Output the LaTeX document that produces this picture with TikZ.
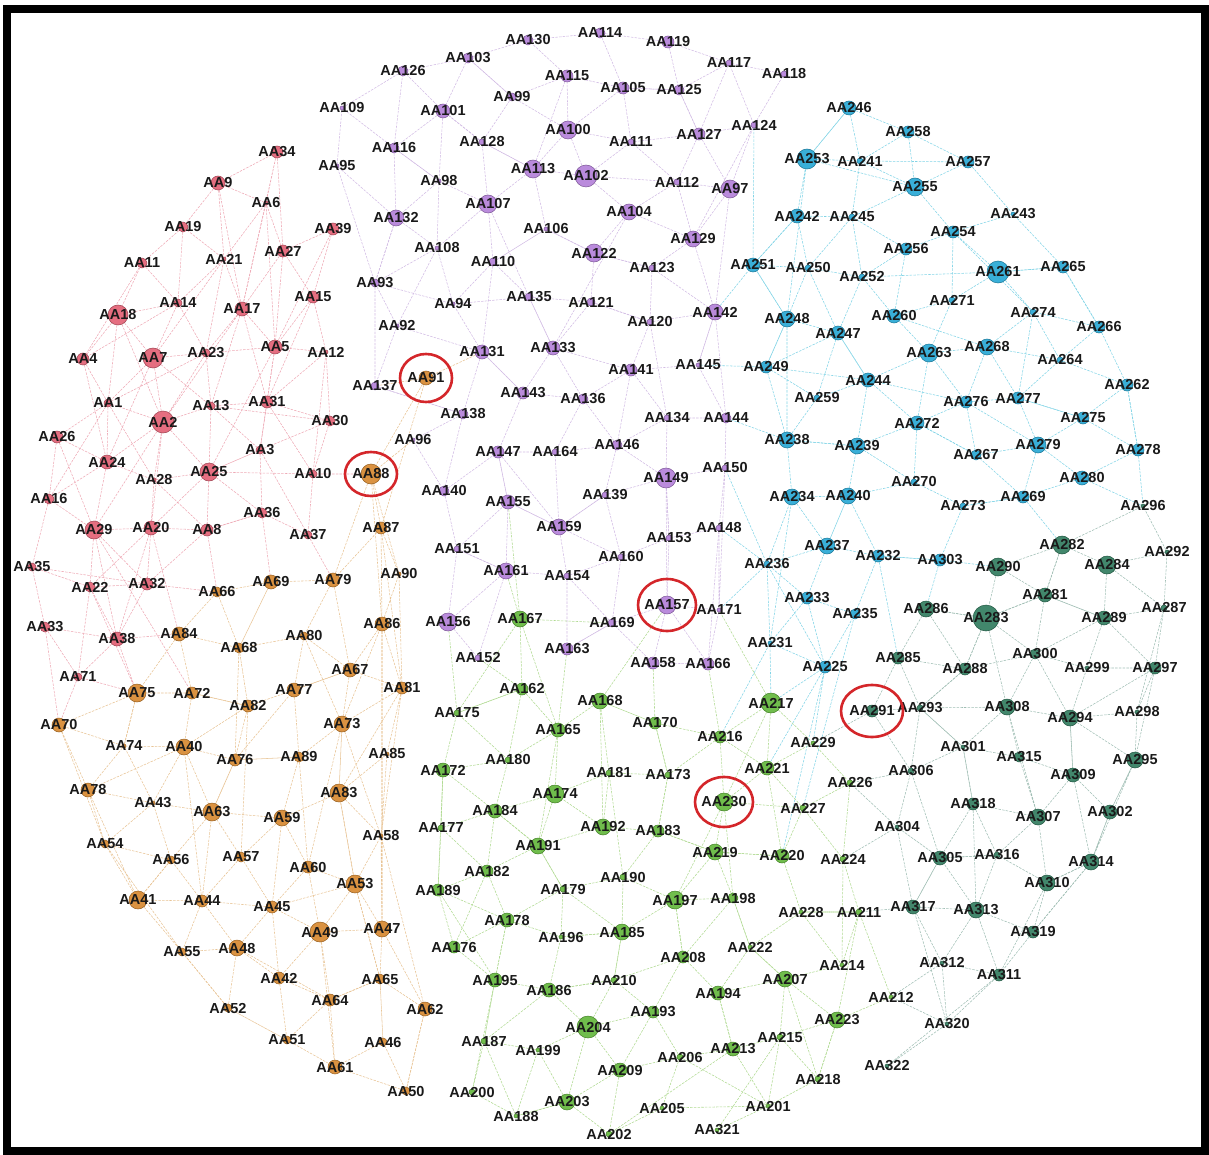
\documentclass[tikz,border=0pt]{standalone}
\usepackage{fontspec}
\setmainfont{Liberation Sans}
\usetikzlibrary{backgrounds}
\definecolor{pkc}{RGB}{226,94,114}\definecolor{orc}{RGB}{214,134,44}\definecolor{puc}{RGB}{178,126,216}
\definecolor{grc}{RGB}{96,182,56}\definecolor{cyc}{RGB}{36,166,212}\definecolor{tlc}{RGB}{46,122,92}
\definecolor{pke}{RGB}{238,170,182}\definecolor{ore}{RGB}{232,196,150}\definecolor{pue}{RGB}{210,188,228}
\definecolor{gre}{RGB}{176,218,146}\definecolor{cye}{RGB}{130,212,230}\definecolor{tle}{RGB}{160,190,180}
\definecolor{ringc}{RGB}{212,38,42}
\tikzset{nd/.style={circle,inner sep=0pt,draw=#1!70!black,fill=#1,fill opacity=.9,line width=.5pt},
lbl/.style={font=\bfseries\fontsize{14.5}{14.5}\selectfont,text=black!90,inner sep=0pt,text opacity=1},
ed/.style={draw=#1,line width=.55pt,dash pattern=on 2.5pt off 1.2pt},ring/.style={draw=ringc,line width=2.6pt}}

\begin{document}
\begin{tikzpicture}[x=1pt,y=-1pt]
\useasboundingbox (0,0) rectangle (1209,1155);
% groupe rouge
\foreach \n/\x/\y/\r in {34/277/152/6,9/218/183/7,6/266/203/2,19/183/227/5,11/142/263/5,21/224/259/2,27/283/251/6,39/333/229/6,14/178/303/4,17/242/309/7,18/118/315/10,15/313/297/6,4/83/359/6,7/153/358/10,23/206/353/4,5/275/347/7,12/326/352/2,1/108/403/4,2/163/422/11,13/211/406/4,31/267/402/6,26/57/437/6,24/107/462/7,28/154/480/2,25/209/472/9,3/260/450/4,30/330/421/5,10/313/474/4,16/49/499/5,29/94/530/9,20/151/528/7,8/207/530/6,36/262/513/5,37/308/535/4,35/32/567/4,22/90/587/5,32/147/584/6,33/45/627/5,38/117/639/7,71/78/677/4}
  \node[nd=pkc,minimum size=2*\r,label={[lbl]center:AA\n}] (AA\n) at (\x,\y) {};
% groupe orange
\foreach \n/\x/\y/\r in {91/426/378/7,88/371/474/10,87/381/528/6,79/333/580/7,90/399/574/2,66/217/592/5,69/271/582/7,84/179/634/7,68/239/648/5,86/382/624/7,80/304/636/4,67/350/670/7,77/294/690/7,81/402/688/6,75/137/693/9,72/192/693/6,82/248/706/6,70/59/725/7,73/342/724/8,74/124/746/2,40/184/747/8,76/235/760/6,89/299/757/5,85/387/754/2,78/88/790/7,43/153/803/2,63/212/812/9,59/282/818/8,83/339/793/9,58/381/836/2,54/105/844/4,56/171/860/4,57/241/857/5,60/308/867/6,53/355/884/9,41/138/900/9,44/202/901/6,45/272/907/6,49/320/932/10,47/382/929/8,55/182/952/4,48/237/948/8,42/279/978/6,65/380/979/5,64/330/1000/6,62/425/1009/7,52/228/1008/4,51/287/1040/4,46/383/1042/4,61/335/1067/7,50/406/1091/4}
  \node[nd=orc,minimum size=2*\r,label={[lbl]center:AA\n}] (AA\n) at (\x,\y) {};
% groupe violet
\foreach \n/\x/\y/\r in {130/528/40/5,114/600/33/5,103/468/58/5,126/403/71/5,119/668/42/6,117/729/63/3,118/784/74/3,115/567/76/6,105/623/88/6,125/679/90/5,99/512/97/4,109/342/108/2,101/443/111/7,124/754/125/3,100/568/130/9,127/699/134/6,111/631/142/3,128/482/142/3,116/394/148/5,95/337/166/2,113/533/169/9,102/586/176/11,98/439/181/2,112/677/182/3,97/730/189/9,107/488/204/9,104/629/212/8,132/396/218/8,106/546/229/2,129/693/239/8,108/437/248/2,122/594/253/9,110/493/262/4,123/652/268/3,93/375/283/4,94/453/304/2,135/529/297/4,121/591/302/4,120/650/322/3,142/715/312/8,92/397/326/2,131/482/352/7,133/553/348/7,141/631/370/6,145/698/365/2,137/375/386/4,143/523/393/6,136/583/399/5,138/463/414/5,134/667/418/3,144/726/418/5,96/413/440/2,146/617/445/5,147/498/452/6,164/555/452/3,149/666/478/10,150/725/468/3,140/444/491/5,139/605/495/3,155/508/502/7,159/559/527/8,148/719/528/3,153/669/538/3,151/457/549/3,160/621/557/3,161/506/571/8,154/567/576/3,157/667/605/9,156/448/622/9,169/612/623/4,171/719/610/2,163/567/649/6,152/478/658/3,158/653/663/6,166/708/664/6}
  \node[nd=puc,minimum size=2*\r,label={[lbl]center:AA\n}] (AA\n) at (\x,\y) {};
% groupe vert
\foreach \n/\x/\y/\r in {167/520/619/8,162/522/689/6,168/600/701/8,175/457/713/3,165/558/730/7,170/655/723/6,172/443/770/7,180/508/760/3,181/609/773/3,173/668/775/3,174/555/794/9,184/495/811/7,177/441/828/3,191/538/846/8,192/603/827/8,183/658/831/6,182/487/871/6,189/438/890/6,179/563/889/3,190/623/877/3,178/507/920/7,196/561/937/2,197/675/900/9,198/733/898/5,176/454/947/6,185/622/932/8,195/495/980/7,186/549/990/7,208/683/957/6,210/614/980/3,194/718/993/7,193/653/1012/6,204/588/1027/11,187/484/1041/3,199/538/1050/2,213/733/1049/7,206/680/1057/3,209/620/1070/7,200/472/1092/3,203/567/1102/8,188/516/1116/2,205/662/1108/2,202/609/1134/3,201/768/1106/2,321/717/1130/2,216/720/737/6,217/771/703/10,221/767/768/7,230/724/802/9,219/715/852/8,220/782/856/7,227/803/808/3,226/850/783/3,224/843/859/3,228/801/912/2,211/859/912/3,222/750/947/2,214/842/965/2,207/785/979/8,212/891/997/2,223/837/1020/8,215/780/1037/3,218/818/1079/3,229/813/743/2}
  \node[nd=grc,minimum size=2*\r,label={[lbl]center:AA\n}] (AA\n) at (\x,\y) {};
% groupe bleu
\foreach \n/\x/\y/\r in {246/849/108/7,258/908/132/6,253/807/159/10,241/860/161/3,257/968/162/6,255/915/187/9,243/1013/214/2,242/797/216/7,245/852/217/3,254/953/232/6,256/906/249/6,251/753/265/7,250/808/268/3,252/862/277/3,261/998/272/11,265/1063/267/6,271/952/300/3,260/894/316/7,274/1033/312/3,248/787/319/8,247/838/333/7,266/1099/327/6,268/987/347/8,263/929/353/9,264/1060/360/3,249/766/367/6,244/868/380/7,262/1127/385/6,259/817/398/3,276/966/402/6,277/1018/398/6,272/917/423/7,275/1083/418/6,238/787/440/8,239/857/446/8,279/1038/445/8,267/976/455/5,278/1138/450/6,270/914/482/3,280/1082/478/7,234/792/497/8,240/848/496/8,273/963/506/3,269/1023/497/6,237/827/546/8,232/878/556/6,303/940/560/6,236/767/564/3,233/807/598/6,235/855/614/5,231/770/643/2,225/825/667/6}
  \node[nd=cyc,minimum size=2*\r,label={[lbl]center:AA\n}] (AA\n) at (\x,\y) {};
% groupe vert fonce
\foreach \n/\x/\y/\r in {296/1143/506/2,282/1062/545/9,292/1167/552/2,290/998/567/9,284/1107/565/9,281/1045/595/7,286/926/609/8,283/986/618/13,289/1104/618/7,287/1164/608/3,285/898/658/6,300/1035/654/5,288/965/669/6,299/1087/668/2,297/1155/668/6,291/872/711/6,293/920/708/3,308/1007/707/8,294/1070/718/8,298/1137/712/2,301/963/747/2,315/1019/757/5,295/1135/760/8,306/911/771/3,309/1073/775/7,318/973/804/6,307/1038/817/8,302/1110/812/7,304/897/827/2,305/940/858/7,316/997/855/3,314/1091/862/8,310/1047/883/8,317/913/907/7,313/976/910/8,319/1033/932/6,312/942/963/2,311/999/975/6,320/947/1024/2,322/887/1066/2}
  \node[nd=tlc,minimum size=2*\r,label={[lbl]center:AA\n}] (AA\n) at (\x,\y) {};
\begin{scope}[on background layer]
\draw[ed=pke] (AA34)--(AA6)--(AA21)--(AA14)--(AA18)--(AA4) (AA34)--(AA17)--(AA5)--(AA31)--(AA3)--(AA25) (AA9)--(AA6)--(AA27)--(AA15)--(AA12)--(AA30) (AA9)--(AA19)--(AA11)--(AA18)--(AA7)--(AA2)--(AA13)--(AA31) (AA19)--(AA21)--(AA17)--(AA23)--(AA7) (AA14)--(AA23)--(AA2)--(AA24)--(AA26)--(AA16)--(AA29)--(AA22)--(AA35)--(AA33)--(AA71) (AA5)--(AA12)--(AA31)--(AA10)--(AA37)--(AA36)--(AA8)--(AA20)--(AA29) (AA1)--(AA2)--(AA28)--(AA25)--(AA3)--(AA36) (AA1)--(AA24)--(AA28)--(AA20)--(AA32)--(AA38)--(AA33) (AA11)--(AA14)--(AA4)--(AA1)--(AA26) (AA27)--(AA17)--(AA13)--(AA25)--(AA8)--(AA32)--(AA22)--(AA38)--(AA71) (AA39)--(AA15)--(AA5)--(AA23)--(AA1) (AA7)--(AA24)--(AA16)--(AA35) (AA3)--(AA30)--(AA10) (AA18)--(AA2)--(AA25)--(AA36) (AA34)--(AA27)--(AA39) (AA21)--(AA7)--(AA13)--(AA3) (AA9)--(AA17)--(AA2)--(AA29) (AA6)--(AA5)--(AA25)--(AA10);
\draw[ed=pke] (AA34)--(AA9)--(AA21)--(AA23)--(AA13)--(AA30) (AA19)--(AA14)--(AA7)--(AA1)--(AA16) (AA11)--(AA4)--(AA24)--(AA29)--(AA38) (AA18)--(AA1)--(AA28)--(AA8)--(AA36) (AA6)--(AA17)--(AA31)--(AA30) (AA39)--(AA5)--(AA3)--(AA37) (AA26)--(AA29)--(AA32)--(AA35) (AA20)--(AA22)--(AA71) (AA2)--(AA20)--(AA38) (AA25)--(AA20) (AA15)--(AA31) (AA27)--(AA5) (AA12)--(AA10);
\draw[ed=pke] (AA38)--(AA84) (AA32)--(AA66) (AA8)--(AA66) (AA36)--(AA69) (AA37)--(AA79) (AA10)--(AA88) (AA71)--(AA70) (AA22)--(AA75) (AA38)--(AA75) (AA20)--(AA84) (AA29)--(AA72) (AA71)--(AA75) (AA33)--(AA70);
\draw[ed=ore] (AA91)--(AA88)--(AA87)--(AA90)--(AA86)--(AA81)--(AA85)--(AA58)--(AA47)--(AA65)--(AA46)--(AA50)--(AA62)--(AA47) (AA88)--(AA79)--(AA80)--(AA67)--(AA73)--(AA89)--(AA76)--(AA82)--(AA68)--(AA69)--(AA66)--(AA84)--(AA72)--(AA75)--(AA70)--(AA78)--(AA54)--(AA41)--(AA55)--(AA52)--(AA51)--(AA61)--(AA50) (AA87)--(AA79)--(AA69)--(AA68)--(AA80)--(AA77)--(AA82)--(AA72)--(AA40)--(AA74)--(AA70) (AA86)--(AA67)--(AA81)--(AA73)--(AA83)--(AA59)--(AA63)--(AA43)--(AA78)--(AA74)--(AA75) (AA40)--(AA76)--(AA89)--(AA60)--(AA53)--(AA49)--(AA64)--(AA61)--(AA46)--(AA65)--(AA53)--(AA83)--(AA58) (AA63)--(AA56)--(AA54)--(AA43)--(AA40) (AA57)--(AA59)--(AA60)--(AA45)--(AA44)--(AA56)--(AA41)--(AA44)--(AA48)--(AA55) (AA57)--(AA63)--(AA76)--(AA77)--(AA67) (AA45)--(AA48)--(AA42)--(AA51)--(AA52)--(AA48) (AA49)--(AA47)--(AA53)--(AA58) (AA42)--(AA64)--(AA65)--(AA62) (AA45)--(AA49)--(AA42) (AA85)--(AA83)--(AA73)--(AA86) (AA88)--(AA86)--(AA47) (AA87)--(AA81)--(AA58) (AA84)--(AA68)--(AA82)--(AA57)--(AA44)--(AA40)--(AA63) (AA91)--(AA137) (AA91)--(AA131) (AA96)--(AA88);
\draw[ed=ore] (AA91)--(AA87)--(AA86)--(AA47) (AA88)--(AA90)--(AA81)--(AA83) (AA79)--(AA67)--(AA77)--(AA89)--(AA59)--(AA45)--(AA42) (AA66)--(AA68)--(AA76)--(AA63)--(AA44)--(AA55) (AA84)--(AA75)--(AA74)--(AA43)--(AA56)--(AA41) (AA72)--(AA82)--(AA40)--(AA78)--(AA41) (AA70)--(AA54)--(AA55)--(AA52) (AA73)--(AA60)--(AA49)--(AA61) (AA83)--(AA53)--(AA65)--(AA64)--(AA51) (AA58)--(AA62)--(AA50) (AA48)--(AA64) (AA57)--(AA45)--(AA53) (AA80)--(AA73)--(AA58);
\draw[ed=pue] (AA126)--(AA103)--(AA130)--(AA114)--(AA119)--(AA117)--(AA118)--(AA124)--(AA97)--(AA112)--(AA127)--(AA125)--(AA105)--(AA115)--(AA99)--(AA103)--(AA101)--(AA116)--(AA126)--(AA109)--(AA95)--(AA93)--(AA92)--(AA137) (AA114)--(AA105)--(AA111)--(AA100)--(AA115)--(AA130) (AA99)--(AA128)--(AA101)--(AA98)--(AA132)--(AA108)--(AA94)--(AA110)--(AA106)--(AA113)--(AA100)--(AA102)--(AA111)--(AA127)--(AA124) (AA119)--(AA125)--(AA117)--(AA127)--(AA97)--(AA129)--(AA123)--(AA122)--(AA104)--(AA112)--(AA102)--(AA113)--(AA107)--(AA98)--(AA116) (AA107)--(AA108)--(AA93)--(AA94)--(AA135)--(AA121)--(AA122)--(AA106)--(AA110)--(AA131)--(AA92) (AA104)--(AA129)--(AA142)--(AA120)--(AA121)--(AA133)--(AA135) (AA123)--(AA120)--(AA141)--(AA145)--(AA142)--(AA144)--(AA134)--(AA146)--(AA141)--(AA136)--(AA133)--(AA143)--(AA131)--(AA138)--(AA137) (AA143)--(AA147)--(AA164)--(AA136) (AA138)--(AA96)--(AA140)--(AA151)--(AA155)--(AA147) (AA164)--(AA146)--(AA139)--(AA149)--(AA134)--(AA144)--(AA150)--(AA148)--(AA153)--(AA149) (AA139)--(AA159)--(AA155)--(AA161)--(AA151)--(AA156)--(AA152)--(AA161)--(AA154)--(AA160)--(AA169)--(AA157)--(AA153) (AA159)--(AA160)--(AA153)--(AA157)--(AA171)--(AA148) (AA154)--(AA163)--(AA169)--(AA158)--(AA166)--(AA157) (AA95)--(AA132) (AA97)--(AA142) (AA150)--(AA171)--(AA166) (AA102)--(AA104)--(AA133) (AA113)--(AA128)--(AA107)--(AA135) (AA116)--(AA132)--(AA93) (AA140)--(AA147)--(AA159);
\draw[ed=pue] (AA126)--(AA101)--(AA128)--(AA113)--(AA115) (AA103)--(AA99)--(AA100)--(AA105)--(AA125)--(AA127) (AA117)--(AA124)--(AA129)--(AA112)--(AA111) (AA109)--(AA116)--(AA98)--(AA108)--(AA92) (AA132)--(AA93)--(AA137)--(AA138)--(AA140) (AA107)--(AA110)--(AA135)--(AA133)--(AA141)--(AA134) (AA106)--(AA122)--(AA123)--(AA142)--(AA145)--(AA144) (AA94)--(AA131)--(AA143)--(AA136)--(AA146)--(AA149)--(AA153) (AA147)--(AA155)--(AA159)--(AA139)--(AA160) (AA164)--(AA159)--(AA154)--(AA169)--(AA163) (AA151)--(AA161)--(AA156) (AA150)--(AA149)--(AA157)--(AA158) (AA148)--(AA166) (AA121)--(AA120)--(AA134);
\draw[ed=gre] (AA167)--(AA162)--(AA165)--(AA168)--(AA170)--(AA216)--(AA217)--(AA221)--(AA229) (AA167)--(AA175)--(AA172)--(AA177)--(AA189)--(AA176)--(AA195)--(AA187)--(AA200)--(AA188)--(AA203)--(AA202)--(AA205)--(AA201)--(AA321) (AA162)--(AA175)--(AA180)--(AA172)--(AA184)--(AA177)--(AA182)--(AA189)--(AA178)--(AA176) (AA180)--(AA165)--(AA174)--(AA191)--(AA184)--(AA182)--(AA178)--(AA196)--(AA179)--(AA191)--(AA192)--(AA181)--(AA173)--(AA170)--(AA168)--(AA181)--(AA174) (AA192)--(AA183)--(AA190)--(AA185)--(AA197)--(AA219)--(AA230)--(AA221)--(AA216)--(AA173)--(AA183) (AA197)--(AA198)--(AA219)--(AA220)--(AA227)--(AA226)--(AA224)--(AA211)--(AA228)--(AA220)--(AA221) (AA190)--(AA179)--(AA185)--(AA196)--(AA186)--(AA195)--(AA178) (AA186)--(AA204)--(AA199)--(AA187)--(AA195) (AA208)--(AA194)--(AA207)--(AA222)--(AA198)--(AA208)--(AA210)--(AA185) (AA210)--(AA193)--(AA204)--(AA209)--(AA203)--(AA199)--(AA188) (AA193)--(AA206)--(AA213)--(AA194)--(AA222)--(AA228)--(AA214)--(AA207)--(AA223)--(AA215)--(AA213) (AA206)--(AA209)--(AA202) (AA205)--(AA206) (AA214)--(AA211)--(AA212)--(AA223)--(AA218)--(AA215)--(AA201)--(AA213) (AA207)--(AA218) (AA204)--(AA210)--(AA186) (AA230)--(AA197)--(AA208) (AA219)--(AA183) (AA217)--(AA230)--(AA227);
\draw[ed=gre] (AA167)--(AA165)--(AA191)--(AA182)--(AA176) (AA175)--(AA162)--(AA180)--(AA184)--(AA191)--(AA179)--(AA178)--(AA195) (AA168)--(AA192)--(AA174)--(AA184) (AA170)--(AA173)--(AA183)--(AA219)--(AA220) (AA216)--(AA230)--(AA198)--(AA222)--(AA207) (AA181)--(AA190)--(AA197)--(AA208)--(AA193)--(AA209) (AA196)--(AA185)--(AA210)--(AA186)--(AA187) (AA177)--(AA172)--(AA189)--(AA195)--(AA200) (AA204)--(AA203)--(AA188)--(AA187) (AA194)--(AA213)--(AA202) (AA206)--(AA201)--(AA218)--(AA223) (AA207)--(AA215)--(AA321) (AA228)--(AA211)--(AA223) (AA221)--(AA227)--(AA224)--(AA214) (AA217)--(AA229)--(AA226);
\draw[ed=gre] (AA157)--(AA168) (AA155)--(AA167) (AA169)--(AA167) (AA156)--(AA175) (AA163)--(AA165) (AA161)--(AA167) (AA158)--(AA170) (AA166)--(AA216) (AA152)--(AA162) (AA171)--(AA217);
\draw[ed=cye] (AA246)--(AA258)--(AA257)--(AA255)--(AA253)--(AA246)--(AA241)--(AA245)--(AA242)--(AA253) (AA258)--(AA241)--(AA255)--(AA254)--(AA243)--(AA265)--(AA261)--(AA254)--(AA256)--(AA245)--(AA250)--(AA251)--(AA242) (AA256)--(AA252)--(AA250)--(AA248)--(AA247)--(AA252)--(AA260)--(AA271)--(AA261)--(AA274)--(AA266)--(AA265) (AA271)--(AA254) (AA260)--(AA263)--(AA268)--(AA274)--(AA264)--(AA266)--(AA262)--(AA275)--(AA278)--(AA280)--(AA269)--(AA279)--(AA277)--(AA264) (AA268)--(AA276)--(AA263)--(AA244)--(AA247)--(AA249)--(AA248)--(AA251) (AA259)--(AA244)--(AA239)--(AA272)--(AA276)--(AA267)--(AA272)--(AA270)--(AA240)--(AA239)--(AA238)--(AA259)--(AA249)--(AA238)--(AA234)--(AA240)--(AA237)--(AA232)--(AA235)--(AA233)--(AA236)--(AA234) (AA267)--(AA279)--(AA275)--(AA277)--(AA276) (AA273)--(AA269) (AA270)--(AA273)--(AA303)--(AA232) (AA237)--(AA236)--(AA231)--(AA225)--(AA235)--(AA233)--(AA231) (AA259)--(AA247) (AA262)--(AA278) (AA244)--(AA272) (AA268)--(AA277) (AA253)--(AA248)--(AA238) (AA242)--(AA250) (AA257)--(AA243) (AA237)--(AA240) (AA233)--(AA225);
\draw[ed=cye] (AA246)--(AA253)--(AA241)--(AA257) (AA258)--(AA255)--(AA245)--(AA252)--(AA261)--(AA265)--(AA266) (AA242)--(AA251)--(AA248)--(AA249)--(AA244) (AA250)--(AA247)--(AA244)--(AA276)--(AA279)--(AA280) (AA256)--(AA260)--(AA268)--(AA264)--(AA262)--(AA278) (AA254)--(AA274)--(AA277)--(AA275) (AA263)--(AA272)--(AA267)--(AA269)--(AA273) (AA238)--(AA239)--(AA270) (AA234)--(AA237)--(AA233) (AA240)--(AA232)--(AA303) (AA236)--(AA225) (AA231)--(AA234) (AA271)--(AA263);
\draw[ed=cye] (AA142)--(AA251) (AA145)--(AA249) (AA144)--(AA238) (AA150)--(AA236) (AA148)--(AA236) (AA171)--(AA236) (AA124)--(AA251) (AA217)--(AA231) (AA217)--(AA225) (AA221)--(AA225) (AA216)--(AA231) (AA229)--(AA225) (AA220)--(AA225) (AA227)--(AA235) (AA290)--(AA303) (AA280)--(AA296) (AA269)--(AA282) (AA232)--(AA285) (AA303)--(AA286) (AA278)--(AA296);
\draw[ed=tle] (AA282)--(AA284)--(AA292)--(AA287)--(AA289)--(AA281)--(AA282)--(AA290)--(AA283)--(AA286)--(AA285)--(AA291)--(AA293)--(AA288)--(AA283)--(AA281)--(AA300)--(AA289)--(AA299)--(AA297)--(AA298)--(AA295)--(AA302)--(AA309)--(AA294)--(AA298)--(AA287) (AA296)--(AA282) (AA296)--(AA292) (AA286)--(AA288)--(AA300)--(AA308)--(AA301)--(AA306)--(AA304)--(AA305)--(AA317)--(AA313)--(AA311)--(AA312)--(AA320)--(AA322) (AA308)--(AA294)--(AA299)--(AA300) (AA308)--(AA315)--(AA309)--(AA307)--(AA318)--(AA301)--(AA293)--(AA306) (AA315)--(AA301) (AA318)--(AA316)--(AA305)--(AA304) (AA316)--(AA307)--(AA310)--(AA314)--(AA302)--(AA295) (AA294)--(AA295)--(AA314) (AA310)--(AA319)--(AA311)--(AA313)--(AA316) (AA317)--(AA312) (AA319)--(AA314) (AA313)--(AA305)--(AA318) (AA288)--(AA285) (AA320)--(AA311) (AA283)--(AA308) (AA284)--(AA289) (AA297)--(AA295) (AA291)--(AA306) (AA229)--(AA291) (AA226)--(AA304) (AA226)--(AA306) (AA224)--(AA304) (AA211)--(AA317) (AA212)--(AA320) (AA212)--(AA312);
\draw[ed=tle] (AA282)--(AA281)--(AA289)--(AA297) (AA290)--(AA281)--(AA283)--(AA288)--(AA293)--(AA308)--(AA307) (AA284)--(AA287)--(AA297)--(AA294)--(AA309)--(AA314)--(AA310) (AA286)--(AA283)--(AA300)--(AA294) (AA285)--(AA293)--(AA301)--(AA318)--(AA313)--(AA319) (AA306)--(AA305)--(AA316)--(AA310)--(AA311) (AA304)--(AA317)--(AA305) (AA302)--(AA314)--(AA319) (AA315)--(AA307) (AA312)--(AA313) (AA320)--(AA317) (AA322)--(AA311);
\end{scope}
% cercles rouges
\draw[ring] (AA91) ellipse [x radius=26,y radius=24];\draw[ring] (AA88) ellipse [x radius=26,y radius=22];\draw[ring] (AA157) ellipse [x radius=29,y radius=26];
\draw[ring] (AA230) ellipse [x radius=29,y radius=25];\draw[ring] (AA291) ellipse [x radius=31,y radius=26];
\draw[line width=8pt] (7,9) rectangle (1205,1151);
\end{tikzpicture}
\end{document}
